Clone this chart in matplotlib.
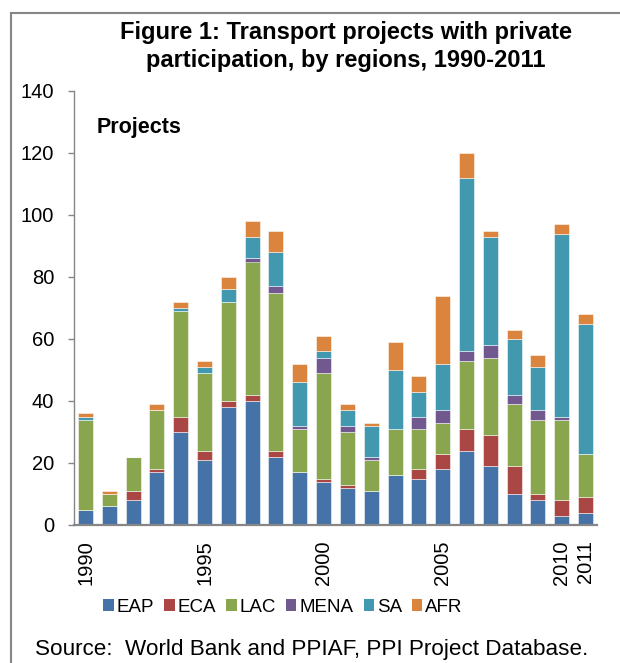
import matplotlib
matplotlib.use("Agg")
import matplotlib.pyplot as plt
from matplotlib.lines import Line2D
from matplotlib.patches import Patch
import numpy as np

plt.rcParams['font.family'] = ['Liberation Sans', 'DejaVu Sans']

years = list(range(1990, 2012))
EAP  = [5, 6, 8, 17, 30, 21, 38, 40, 22, 17, 14, 12, 11, 16, 15, 18, 24, 19, 10, 8, 3, 4]
ECA  = [0, 0, 3, 1, 5, 3, 2, 2, 2, 0, 1, 1, 0, 0, 3, 5, 7, 10, 9, 2, 5, 5]
LAC  = [29, 4, 11, 19, 34, 25, 32, 43, 51, 14, 34, 17, 10, 15, 13, 10, 22, 25, 20, 24, 26, 14]
MENA = [0, 0, 0, 0, 0, 0, 0, 1, 2, 1, 5, 2, 1, 0, 4, 4, 3, 4, 3, 3, 1, 0]
SA   = [1, 0, 0, 0, 1, 2, 4, 7, 11, 14, 2, 5, 10, 19, 8, 15, 56, 35, 18, 14, 59, 42]
AFR  = [1, 1, 0, 2, 2, 2, 4, 5, 7, 6, 5, 2, 1, 9, 5, 22, 8, 2, 3, 4, 3, 3]
series_names = ["EAP", "ECA", "LAC", "MENA", "SA", "AFR"]
colors = ["#4572A7", "#AA4643", "#89A54E", "#71588F", "#4198AF", "#DB843D"]
tick_years = [1990, 1995, 2000, 2005, 2010, 2011]
yticks = [0, 20, 40, 60, 80, 100, 120, 140]

W, H = 620, 663
fig = plt.figure(figsize=(W / 100, H / 100), dpi=100)
ax = fig.add_axes([73.6 / W, (H - 525) / H, (597.4 - 73.6) / W, (525 - 91) / H])

x = np.arange(len(years))
bottom = np.zeros(len(years))
for name, vals, c in zip(series_names, [EAP, ECA, LAC, MENA, SA, AFR], colors):
    v = np.array(vals, dtype=float)
    ax.bar(x, v, bottom=bottom, width=0.63, color=c, edgecolor=(1, 1, 1, 0.6),
           linewidth=0.6, label=name)
    bottom += v

ax.set_xlim(-0.5, len(years) - 0.5)
ax.set_ylim(0, 140)
ax.set_yticks(yticks)
ax.tick_params(axis='y', direction='out', length=4, width=1, color='#868686',
               labelsize=14.5, pad=10)
ax.set_xticks([years.index(yv) for yv in tick_years])
ax.set_xticklabels([str(yv) for yv in tick_years], rotation=90, va='top', ha='center')
ax.tick_params(axis='x', length=0, labelsize=14.5, pad=11)

for s in ['top', 'right']:
    ax.spines[s].set_visible(False)
ax.spines['left'].set_color('#868686')
ax.spines['left'].set_linewidth(1)
ax.spines['bottom'].set_color('#868686')
ax.spines['bottom'].set_linewidth(1.6)

ax.text(97 / W, 1 - 127 / H, "Projects", transform=fig.transFigure, fontsize=15.5,
        fontweight='bold', va='center', ha='left')

fig.text(346 / W, 1 - 46.5 / H,
         "Figure 1: Transport projects with private\nparticipation, by regions, 1990-2011",
         ha='center', va='center', fontsize=17, fontweight='bold', linespacing=1.26)

handles = [Patch(facecolor=c, edgecolor='none') for c in colors]
fig.legend(handles, series_names, loc='center', bbox_to_anchor=(283 / W, 1 - 607 / H),
           ncol=6, frameon=False, fontsize=13.5, handlelength=0.55, handleheight=0.55,
           handletextpad=0.15, columnspacing=0.55, borderpad=0, borderaxespad=0)

fig.text(35 / W, 1 - 650 / H, "Source:  World Bank and PPIAF, PPI Project Database.",
         ha='left', va='center', fontsize=16.2)

fig.add_artist(Line2D([11 / W, 11 / W], [0, 1 - 13 / H], transform=fig.transFigure,
                      color='#868686', linewidth=1.5))
fig.add_artist(Line2D([11 / W, 1], [1 - 13 / H, 1 - 13 / H], transform=fig.transFigure,
                      color='#868686', linewidth=1.5))

fig.savefig("out.png", dpi=100)
